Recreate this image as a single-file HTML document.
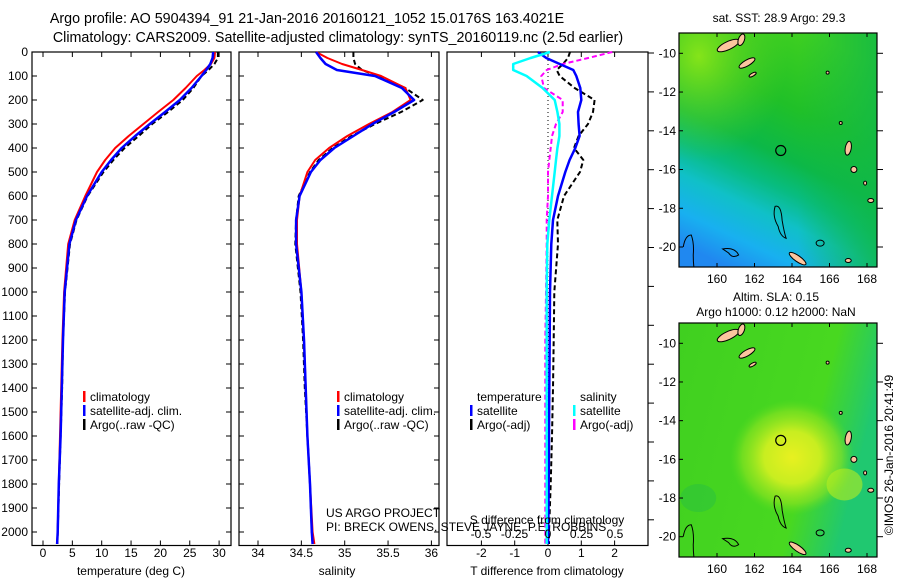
<!DOCTYPE html>
<html><head><meta charset="utf-8"><style>
body{margin:0;background:#fff}
svg{display:block;font-family:"Liberation Sans",sans-serif}
text{fill:#000}
</style></head><body>
<svg id="s" width="900" height="580" viewBox="0 0 900 580" xmlns="http://www.w3.org/2000/svg">
<defs>
<linearGradient id="sstg" x1="0.65" y1="0" x2="0.25" y2="1">
<stop offset="0" stop-color="#40d020"/><stop offset="0.3" stop-color="#20c028"/><stop offset="0.5" stop-color="#0cb848"/><stop offset="0.62" stop-color="#08bc80"/><stop offset="0.74" stop-color="#10c0c8"/><stop offset="0.88" stop-color="#18b0f0"/><stop offset="1" stop-color="#2088f0"/>
</linearGradient>
<radialGradient id="sstc" cx="0.1" cy="0.1" r="0.45">
<stop offset="0" stop-color="#90e818" stop-opacity="0.9"/><stop offset="1" stop-color="#50d020" stop-opacity="0"/>
</radialGradient>
<linearGradient id="sstr" x1="0" y1="0" x2="1" y2="0">
<stop offset="0" stop-color="#10b848" stop-opacity="0"/><stop offset="0.6" stop-color="#10b848" stop-opacity="0"/><stop offset="1" stop-color="#10b848" stop-opacity="0.8"/>
</linearGradient>
<radialGradient id="slab" cx="0.5" cy="0.5" r="0.5">
<stop offset="0" stop-color="#e8f020"/><stop offset="0.45" stop-color="#c8ee20"/><stop offset="0.8" stop-color="#90e420" stop-opacity="0.6"/><stop offset="1" stop-color="#60dc20" stop-opacity="0"/>
</radialGradient>
<linearGradient id="slag" x1="0" y1="0" x2="1" y2="0.3">
<stop offset="0" stop-color="#40d020"/><stop offset="0.75" stop-color="#48d820"/><stop offset="1" stop-color="#20c870"/>
</linearGradient>
<clipPath id="c1"><rect x="679" y="33" width="198" height="234"/></clipPath>
<clipPath id="c2"><rect x="679" y="323" width="198" height="234"/></clipPath>
</defs>
<g id="root"></g>
</svg>
<script>
// depths (m) shared by all profile series
const depths=[0,25,50,75,100,150,200,250,300,350,400,450,500,600,700,800,1000,1200,1400,1600,1800,2000,2050];
const tempClim=[29.3,29.2,28.6,27.5,26.2,24.3,22.2,19.6,17.1,14.6,12.3,10.6,9.2,7.2,5.4,4.3,3.6,3.3,3.1,2.9,2.7,2.5,2.4];
const tempSat=[29.0,28.9,28.5,27.8,27.0,25.3,23.3,20.8,18.2,15.7,13.4,11.6,10.0,7.5,5.6,4.5,3.7,3.4,3.2,3.0,2.7,2.5,2.4];
const tempArgo=[29.8,29.8,29.2,28.2,27.0,25.6,23.8,21.3,18.6,16.3,13.9,12.0,10.3,7.6,5.7,4.6,3.75,3.4,3.25,3.0,2.75,2.5,2.45];
const salClim=[34.67,34.8,34.97,35.2,35.42,35.7,35.76,35.55,35.28,35.03,34.82,34.66,34.57,34.48,34.45,34.45,34.5,34.53,34.55,34.57,34.6,34.63,34.65];
const salSat=[34.67,34.72,34.78,34.91,35.35,35.66,35.8,35.57,35.32,35.1,34.88,34.72,34.61,34.48,34.44,34.44,34.5,34.53,34.55,34.57,34.6,34.62,34.63];
const salArgo=[35.1,35.1,35.12,35.2,35.38,35.7,35.9,35.65,35.35,35.08,34.86,34.7,34.6,34.47,34.44,34.43,34.49,34.52,34.54,34.57,34.6,34.62,34.63];
const tDiffSat=[-0.3,-0.05,0.35,0.76,0.85,0.97,1.0,0.9,0.92,0.95,0.82,0.65,0.52,0.3,0.15,0.1,0.06,0.05,0.04,0.03,0.02,0.01,0];
const tDiffArgo=[0.66,0.6,0.45,0.26,0.35,0.8,1.4,1.35,1.2,0.92,0.78,1.06,0.96,0.48,0.28,0.3,0.19,0.17,0.15,0.12,0.08,0.03,0.03];
const sDiffSat=[0.015,-0.13,-0.26,-0.26,-0.16,-0.04,0.05,0.07,0.085,0.085,0.07,0.06,0.05,0.03,0.01,-0.005,-0.01,-0.01,-0.01,-0.01,-0.01,-0.01,-0.01];
const sDiffArgo=[0.48,0.3,0.11,-0.01,-0.05,-0.03,0.11,0.11,0.06,0.03,0.02,0.01,0,0,-0.01,-0.01,-0.015,-0.02,-0.02,-0.02,-0.02,-0.02,-0.02];
const depthTicks=[0,100,200,300,400,500,600,700,800,900,1000,1100,1200,1300,1400,1500,1600,1700,1800,1900,2000];
const tempTicks=[0,5,10,15,20,25,30];
const salTicks=[34,34.5,35,35.5,36];
const tDiffTicks=[-2,-1,0,1,2];
const sDiffTicks=[-0.5,-0.25,0,0.25,0.5];
const lonTicks=[160,162,164,166,168];
const latTicks=[-10,-12,-14,-16,-18,-20];

const NS="http://www.w3.org/2000/svg";
const root=document.getElementById('root');
function el(t,a,p){const e=document.createElementNS(NS,t);for(const k in a)e.setAttribute(k,a[k]);(p||root).appendChild(e);return e;}
function txt(x,y,s,anchor,size,p){const e=el('text',{x:x,y:y,'text-anchor':anchor||'start','font-size':size||12},p);e.textContent=s;return e;}
const yD=d=>52+d*0.24;
const xT=v=>43+v*5.87;
const xS=v=>258+(v-34)*86.7;
const xTd=v=>548+v*33.3;
const xSd=v=>548+v*134;
const PB=545.5;

function panel(x0,x1,name){
  const g=el('g',{});
  
  
  el('rect',{x:x0,y:52,width:x1-x0,height:PB-52,fill:'none',stroke:'#000','stroke-width':1.2},g);
  return g;
}
function line(g,xs,vals,color,w,dash,name){
  let d='';vals.forEach((v,i)=>{d+=(i?'L':'M')+xs(v).toFixed(1)+','+yD(depths[i]).toFixed(1);});
  const p=el('path',{d:d,fill:'none',stroke:color,'stroke-width':w,'stroke-linejoin':'round'},g);
  if(dash)p.setAttribute('stroke-dasharray',dash);
  
  
}
function xticks(g,ticks,xs,y0,labelY,fmt){
  ticks.forEach(t=>{const x=xs(t);
    el('line',{x1:x,y1:PB,x2:x,y2:PB-5,stroke:'#000'},g);
    el('line',{x1:x,y1:52,x2:x,y2:57,stroke:'#000'},g);
    if(labelY){const e=txt(x,labelY,fmt?fmt(t):String(t),'middle',12,g);}
  });
}
function yticks(g,x0,x1){
  depthTicks.forEach(d=>{const y=yD(d);
    el('line',{x1:x0,y1:y,x2:x0+5,y2:y,stroke:'#000'},g);
    el('line',{x1:x1,y1:y,x2:x1-5,y2:y,stroke:'#000'},g);
  });
}
function legend(g,x,y,items){
  items.forEach((it,i)=>{
    const yy=y+i*14;
    if(it[1])el('rect',{x:x,y:yy-10,width:2.5,height:11,fill:it[1]},g);
    const e=txt(x+7,yy,it[0],'start',12,g);
    
    
  });
}

// titles
let t1=txt(307,23,'Argo profile: AO 5904394_91 21-Jan-2016 20160121_1052 15.0176S 163.4021E','middle',14.3);

let t2=txt(338,42,'Climatology: CARS2009. Satellite-adjusted climatology: synTS_20160119.nc (2.5d earlier)','middle',14.3);


// panel 1 temperature
const g1=panel(32,231,'temperature-panel');
yticks(g1,32,231);
depthTicks.forEach(d=>{const e=txt(28,yD(d)+4,String(d),'end',12,g1);});
xticks(g1,tempTicks,xT,0,557);
line(g1,xT,tempArgo,'#000',2,'5,3','temp-argo-line');
line(g1,xT,tempClim,'#f00',2,null,'temp-climatology-line');
line(g1,xT,tempSat,'#00f',2.5,null,'temp-satellite-line');
let a1=txt(131,575,'temperature (deg C)','middle',12,g1);
legend(g1,83,401,[['climatology','#f00'],['satellite-adj. clim.','#00f'],['Argo(..raw -QC)','#000']]);

// panel 2 salinity
const g2=panel(239,439,'salinity-panel');
yticks(g2,239,439);
xticks(g2,salTicks,xS,0,557);
line(g2,xS,salArgo,'#000',2,'5,3','sal-argo-line');
line(g2,xS,salClim,'#f00',2,null,'sal-climatology-line');
line(g2,xS,salSat,'#00f',2.5,null,'sal-satellite-line');
let a2=txt(337,575,'salinity','middle',12,g2);
legend(g2,337,401,[['climatology','#f00'],['satellite-adj. clim.','#00f'],['Argo(..raw -QC)','#000']]);
let c1=txt(326,517,'US ARGO PROJECT','start',12,g2);
let c2=txt(326,531,'PI: BRECK OWENS, STEVE JAYNE, P.E. ROBBINS','start',12,g2);

// panel 3 differences
const g3=panel(447,648,'difference-panel');
xticks(g3,tDiffTicks,xTd,0,557);
for(let y=53;y<PB;y+=38.9){el('line',{x1:648,y1:y,x2:654,y2:y,stroke:'#000'},g3);}
el('line',{x1:548,y1:52,x2:548,y2:PB,stroke:'#000','stroke-dasharray':'1,3'},g3);
line(g3,xTd,tDiffArgo,'#000',2,'5,3','tdiff-argo-line');
line(g3,xSd,sDiffArgo,'#f0f',2,'5,3','sdiff-argo-line');
line(g3,xTd,tDiffSat,'#00f',2.5,null,'tdiff-satellite-line');
line(g3,xSd,sDiffSat,'#0ff',2.5,null,'sdiff-satellite-line');
let a3=txt(547,575,'T difference from climatology','middle',12,g3);
let a4=txt(547,524,'S difference from climatology','middle',12,g3);
sDiffTicks.forEach(t=>{const e=txt(xSd(t),538,String(t),'middle',12,g3);});
legend(g3,470,401,[['temperature',null],['satellite','#00f'],['Argo(-adj)','#000']]);
legend(g3,573,401,[['salinity',null],['satellite','#0ff'],['Argo(-adj)','#f0f']]);

// maps
const lonX=l=>717+(l-160)*18.75;
function map(y0,latY,fill,name,extra){
  const g=el('g',{});
  
  
  const cp=y0<100?'url(#c1)':'url(#c2)';
  const inner=el('g',{'clip-path':cp},g);
  el('rect',{x:679,y:y0,width:198,height:234,fill:fill},inner);
  if(extra)extra(inner);
  const Y=lat=>latY(lat);
  const land='#fcc59e';
  [[160.6,-9.6,12,4,-25],[161.6,-10.5,9,3,-30],[161.3,-9.3,3,6,20],[161.9,-11.1,4,1.5,-30],[165.9,-11.0,1.5,1.5,0],[167.0,-14.9,3,7,10],[167.3,-16.0,3,3,0],[168.2,-17.6,3,2,0],[167.9,-16.7,1.5,2,0],[164.3,-20.6,10,3,35],[167.0,-20.7,3,2,0],[166.6,-13.6,1.5,1.5,0]].forEach(p=>{
    el('ellipse',{cx:lonX(p[0]),cy:Y(p[1]),rx:p[2],ry:p[3],fill:land,stroke:'#000','stroke-width':1,transform:'rotate('+p[4]+' '+lonX(p[0])+' '+Y(p[1])+')'},inner);
  });
  el('path',{d:`M${lonX(163.1)},${Y(-17.9)} q6,-2 7,14 q2,12 4,18 q-6,-2 -8,-12 q-6,-10 -3,-20 Z`,fill:'none',stroke:'#000','stroke-width':1},inner);
  el('path',{d:`M${lonX(158.2)},${Y(-20)} q2,-12 8,-12 q3,8 2,20 q0,12 2,20`,fill:'none',stroke:'#000','stroke-width':1},inner);
  el('path',{d:`M${lonX(160.3)},${Y(-20.1)} q12,-2 16,6 q-6,4 -10,-2 Z`,fill:'none',stroke:'#000','stroke-width':1},inner);
  el('ellipse',{cx:lonX(165.5),cy:Y(-19.8),rx:4,ry:3,fill:'none',stroke:'#000','stroke-width':1},inner);
  const mk=el('circle',{cx:lonX(163.4),cy:Y(-15.02),r:5,fill:'none',stroke:'#000','stroke-width':1.2},g);
  
  el('rect',{x:679,y:y0,width:198,height:234,fill:'none',stroke:'#000','stroke-width':1.2},g);
  lonTicks.forEach(l=>{const x=lonX(l);
    el('line',{x1:x,y1:y0,x2:x,y2:y0+4,stroke:'#000'},g);
    el('line',{x1:x,y1:y0+234,x2:x,y2:y0+230,stroke:'#000'},g);
    const e=txt(x,y0+250,String(l),'middle',12,g);
  });
  latTicks.forEach(l=>{const y=latY(l);
    el('line',{x1:679,y1:y,x2:683,y2:y,stroke:'#000'},g);
    el('line',{x1:877,y1:y,x2:883,y2:y,stroke:'#000'},g);
    const e=txt(676,y+4,String(l),'end',12,g);
  });
  return g;
}
map(33,l=>53.3+(-10-l)*19.37,'url(#sstg)','sst-map',g=>{
  el('rect',{x:679,y:33,width:198,height:234,fill:'url(#sstr)'},g);
  el('rect',{x:679,y:33,width:198,height:234,fill:'url(#sstc)'},g);
});
map(323,l=>343.3+(-10-l)*19.34,'url(#slag)','sla-map',g=>{
  el('ellipse',{cx:lonX(164.0),cy:343.3+5.9*19.34,rx:62,ry:58,fill:'url(#slab)'},g);
  el('ellipse',{cx:lonX(166.8),cy:343.3+7.3*19.34,rx:18,ry:16,fill:'#b8ec20',opacity:0.6},g);
  el('ellipse',{cx:lonX(159),cy:343.3+8*19.34,rx:18,ry:14,fill:'#28c040',opacity:0.5},g);
});
let m1=txt(779,22,'sat. SST: 28.9 Argo: 29.3','middle',12);
let m2=txt(776,301,'Altim. SLA: 0.15','middle',12);
let m3=txt(776,316,'Argo h1000: 0.12 h2000: NaN','middle',12);
let cr=txt(0,0,'\u00a9IMOS 26-Jan-2016 20:41:49','middle',12);
cr.setAttribute('transform','translate(893,455) rotate(-90)');

</script>
</body></html>
